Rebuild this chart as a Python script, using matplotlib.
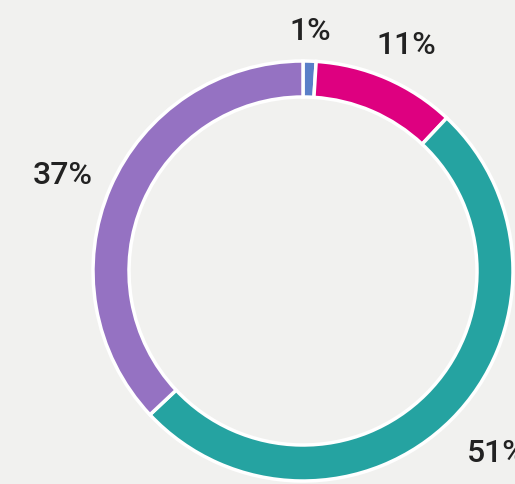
import matplotlib
matplotlib.use('Agg')
import matplotlib.pyplot as plt

# share of each segment, clockwise from 12 o'clock
labels = ['1%', '11%', '51%', '37%']
shares = [1, 11, 51, 37]
colors = ['#5a7fc8', '#de0080', '#25a3a1', '#9572c2']

# label anchor points in pixels (x, y from top), as placed in the original
label_pos = [(310, 31), (406, 45), (467, 454), (63, 175)]
label_ha = ['center', 'center', 'left', 'center']

W, H = 515, 485
bg = '#f1f1ef'

fig = plt.figure(figsize=(W / 100, H / 100), dpi=100, facecolor=bg)
ax = fig.add_axes([0, 0, 1, 1])
ax.set_facecolor(bg)

# ring centre and outer radius in pixel coordinates (y upwards)
cx, cy, r = 303, H - 272, 210

ax.pie(shares, colors=colors, startangle=90, counterclock=False,
       center=(cx, cy), radius=r,
       wedgeprops=dict(width=36, edgecolor='white', linewidth=2.5))

ax.set_aspect('auto')
ax.set_xlim(0, W)
ax.set_ylim(0, H)
ax.axis('off')

for txt, (x, y), ha in zip(labels, label_pos, label_ha):
    ax.text(x, H - y, txt, ha=ha, va='center', fontsize=23,
            family='Roboto', fontweight='medium', color='#222222')

fig.savefig('out.png', dpi=100, facecolor=bg)
